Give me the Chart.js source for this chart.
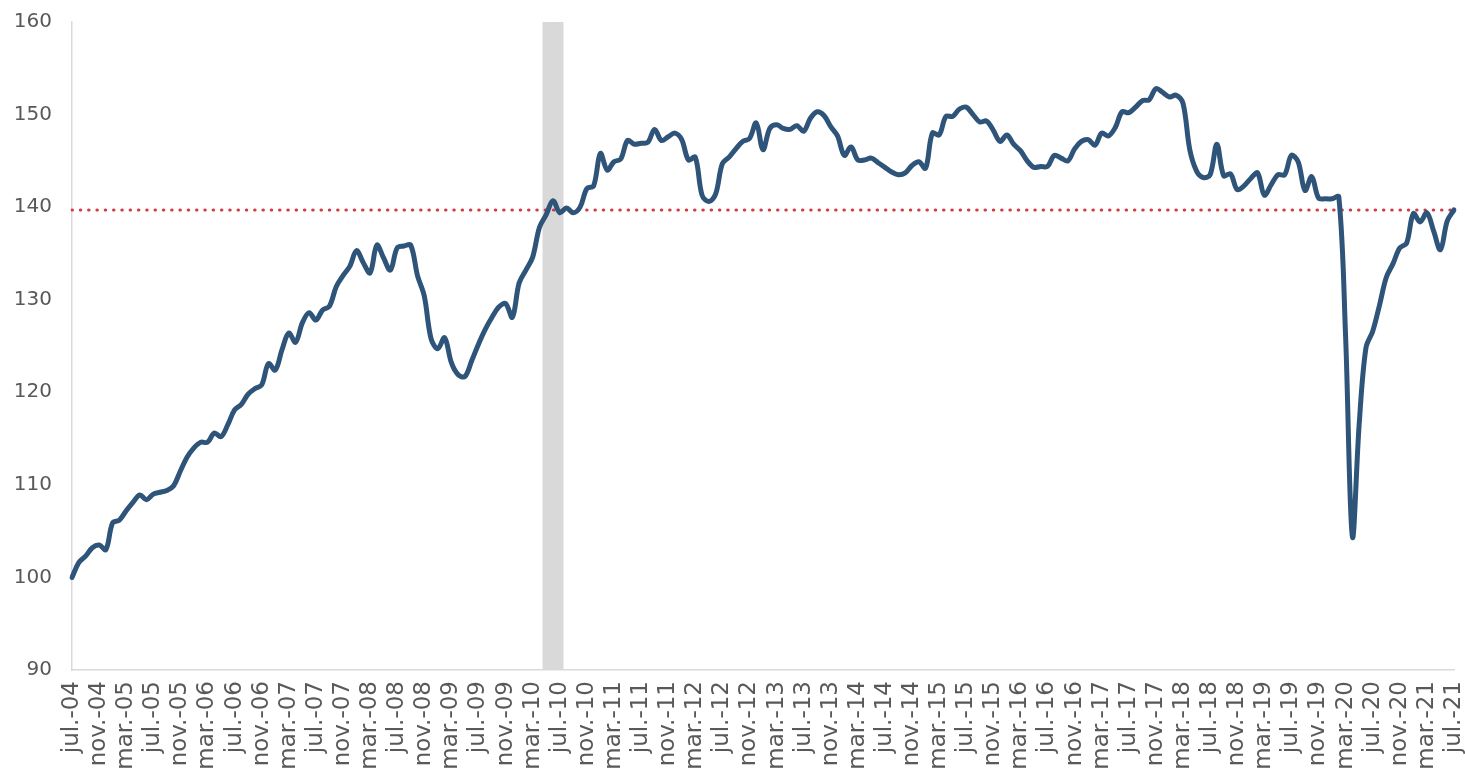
<!DOCTYPE html>
<html>
<head>
<meta charset="utf-8">
<script src="https://cdn.jsdelivr.net/npm/chart.js@4.4.1/dist/chart.umd.min.js"></script>
<style>
  html, body { margin: 0; padding: 0; background: #fff; overflow: hidden; }
  #wrap { width: 1465px; height: 769px; position: relative; }
</style>
</head>
<body>
<div id="wrap"><canvas id="grafico"></canvas></div>
<script>
// =========================================
// DATOS (índice mensual, jul-04 = 100)
// =========================================
const meses = ['ene.', 'feb.', 'mar.', 'abr.', 'may.', 'jun.', 'jul.', 'ago.', 'sept.', 'oct.', 'nov.', 'dic.'];
const mesInicio = 6;      // jul.
const anioInicio = 2004;
const totalMeses = 205;   // jul.-04 .. jul.-21

const serie = [
  100.0, 101.6, 102.3, 103.2, 103.5, 103.0,                                     // 2004
  105.9, 106.2, 107.2, 108.1, 108.9, 108.4, 109.0, 109.2, 109.4, 109.9, 111.5, 113.0, // 2005
  114.0, 114.6, 114.6, 115.6, 115.2, 116.5, 118.1, 118.7, 119.8, 120.4, 120.8, 123.1, // 2006
  122.4, 124.6, 126.4, 125.4, 127.5, 128.6, 127.8, 128.9, 129.3, 131.4, 132.6, 133.6, // 2007
  135.3, 134.0, 132.9, 135.9, 134.5, 133.2, 135.6, 135.8, 135.9, 132.6, 130.4, 125.8, // 2008
  124.7, 125.9, 123.2, 121.9, 121.7, 123.4, 125.2, 126.8, 128.1, 129.2, 129.6, 128.1, // 2009
  131.8, 133.2, 134.6, 137.8, 139.2, 140.7, 139.4, 139.9, 139.4, 140.0, 142.0, 142.3, // 2010
  145.8, 144.0, 144.9, 145.2, 147.2, 146.8, 146.9, 147.0, 148.4, 147.2, 147.6, 148.0, // 2011
  147.3, 145.1, 145.4, 141.3, 140.6, 141.4, 144.7, 145.4, 146.3, 147.1, 147.4, 149.1, // 2012
  146.2, 148.5, 148.9, 148.5, 148.4, 148.8, 148.2, 149.6, 150.3, 149.9, 148.7, 147.7, // 2013
  145.6, 146.5, 145.1, 145.1, 145.3, 144.8, 144.3, 143.8, 143.5, 143.7, 144.5, 144.9, // 2014
  144.2, 148.0, 147.8, 149.8, 149.8, 150.6, 150.8, 150.0, 149.2, 149.3, 148.3, 147.1, // 2015
  147.8, 146.8, 146.1, 145.0, 144.3, 144.4, 144.4, 145.6, 145.3, 145.0, 146.3, 147.1, // 2016
  147.3, 146.7, 148.0, 147.7, 148.6, 150.3, 150.2, 150.8, 151.5, 151.6, 152.8, 152.4, // 2017
  151.9, 152.1, 151.2, 146.2, 143.9, 143.2, 143.5, 146.8, 143.4, 143.6, 141.9, 142.3, // 2018
  143.1, 143.7, 141.3, 142.4, 143.5, 143.5, 145.6, 144.9, 141.8, 143.3, 141.0, 140.9, // 2019
  140.9, 141.1, 126.0, 104.4, 116.5, 124.8, 126.6, 129.4, 132.4, 133.9, 135.6, 136.1, // 2020
  139.3, 138.4, 139.4, 137.4, 135.4, 138.5, 139.7                                // 2021
];

const nivelReferencia = 139.7;                       // línea punteada roja
const mesesFranja = ['may.-10', 'jun.-10', 'jul.-10']; // franja gris
const yMin = 90;
const yMax = 160;
const yPaso = 10;

// etiquetas tipo "jul.-04"
const etiquetas = [];
for (let i = 0; i < totalMeses; i++) {
    const m = (mesInicio + i) % 12;
    const a = anioInicio + Math.floor((mesInicio + i) / 12);
    etiquetas.push(meses[m] + '-' + String(a % 100).padStart(2, '0'));
}

const lineaRef = etiquetas.map(() => nivelReferencia);
const franja = etiquetas.map(e => mesesFranja.includes(e) ? yMax : null);

// =========================================
// GRAFICO
// =========================================
const ctx = document.getElementById('grafico').getContext('2d');

new Chart(ctx, {
    type: 'line',
    data: {
        labels: etiquetas,
        datasets: [
            {
                type: 'bar',
                label: 'franja',
                data: franja,
                backgroundColor: '#D9D9D9',
                borderWidth: 0,
                barPercentage: 1,
                categoryPercentage: 1,
                order: 3
            },
            {
                label: 'referencia',
                data: lineaRef,
                borderColor: '#D23A44',
                borderWidth: 3,
                borderDash: [0.5, 7.8],
                borderCapStyle: 'round',
                pointRadius: 0,
                fill: false,
                order: 2
            },
            {
                label: 'serie',
                data: serie,
                borderColor: '#2E5479',
                borderWidth: 5,
                borderCapStyle: 'round',
                borderJoinStyle: 'round',
                pointRadius: 0,
                tension: 0.35,
                fill: false,
                order: 1
            }
        ]
    },
    options: {
        responsive: true,
        maintainAspectRatio: false,
        animation: false,
        layout: { padding: { top: 22, right: 11, left: 0, bottom: 0 } },
        plugins: {
            legend: { display: false },
            tooltip: { enabled: false }
        },
        scales: {
            x: {
                offset: false,
                grid: { display: false, drawTicks: false },
                border: { display: true, color: '#D9D9D9', width: 1.5 },
                afterFit: (scale) => {
                    scale.height = 99;
                    scale.paddingLeft = 0;
                    scale.paddingRight = 0;
                },
                ticks: {
                    autoSkip: false,
                    maxRotation: 90,
                    minRotation: 90,
                    padding: 11,
                    color: '#595959',
                    font: { family: 'DejaVu Sans', size: 23 },
                    callback: function (val, idx) {
                        return idx % 4 === 0 ? this.getLabelForValue(val) : '';
                    }
                }
            },
            y: {
                min: yMin,
                max: yMax,
                grid: { display: false, drawTicks: false },
                border: { display: true, color: '#D9D9D9', width: 1.5 },
                afterFit: (scale) => {
                    scale.width = 72;
                    scale.paddingTop = 0;
                    scale.paddingBottom = 0;
                },
                ticks: {
                    stepSize: yPaso,
                    padding: 20,
                    color: '#595959',
                    font: { family: 'DejaVu Sans', size: 20 }
                }
            }
        }
    }
});
</script>
</body>
</html>
